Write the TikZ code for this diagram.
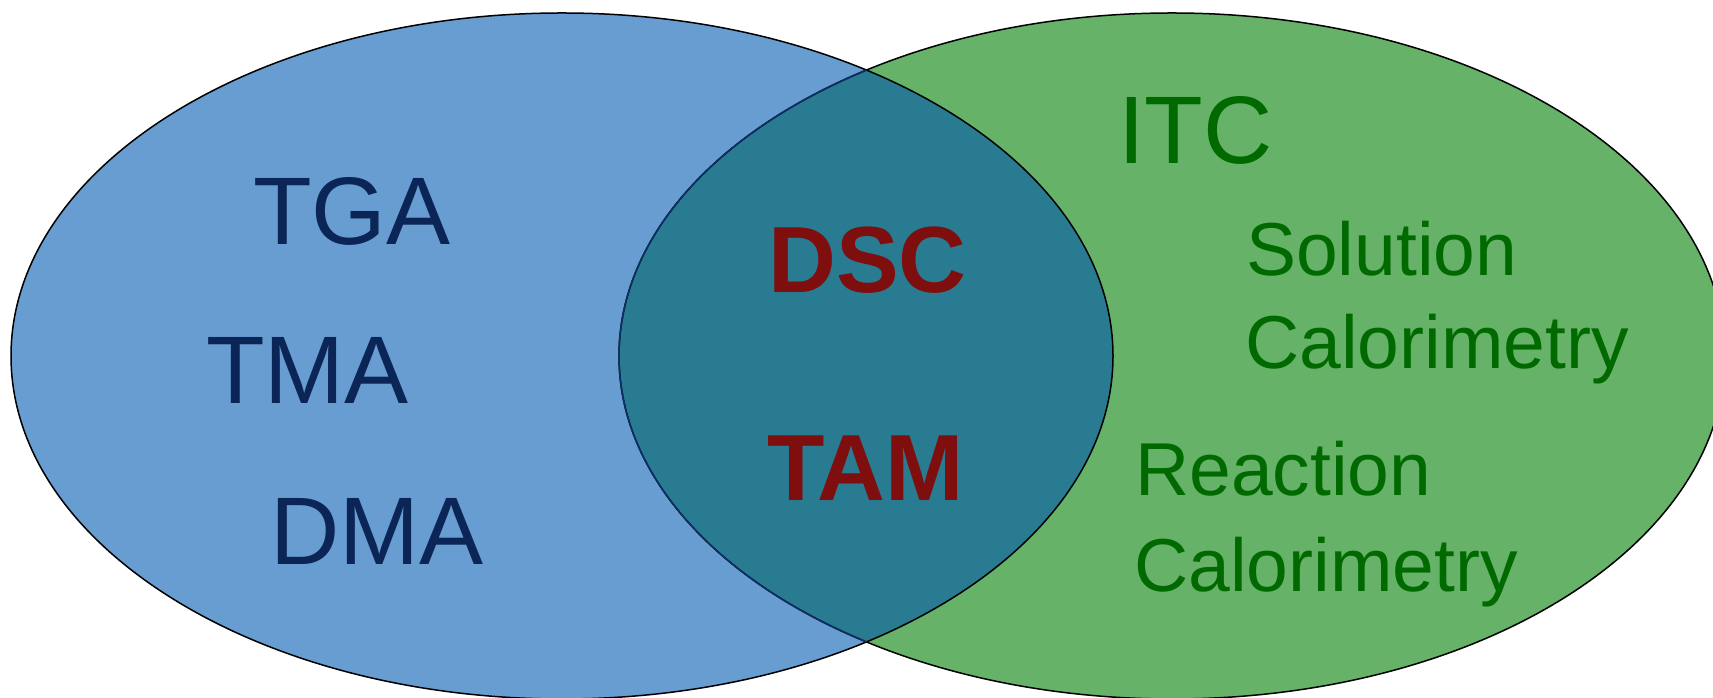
\documentclass[tikz,border=0pt]{standalone}
\usepackage{fontspec}
\setmainfont{Liberation Sans}
\definecolor{setblue}{HTML}{689DD2}
\definecolor{setgreen}{HTML}{66B268}
\definecolor{setboth}{HTML}{287B91}
\definecolor{navytext}{HTML}{0B2556}
\definecolor{redtext}{HTML}{7F0E0E}
\definecolor{greentext}{HTML}{006A00}
\definecolor{edgenavy}{HTML}{0D2F66}
\tikzset{
  outline/.style={line width=1.5pt},
  lefttxt/.style={anchor=base west, inner sep=0pt, text=navytext, font=\fontsize{96}{100}\selectfont},
  midtxt/.style={anchor=base west, inner sep=0pt, text=redtext, font=\fontsize{94}{100}\selectfont\bfseries},
  righttxt/.style={anchor=base west, inner sep=0pt, text=greentext, font=\fontsize{75}{80}\selectfont},
}
\begin{document}
\begin{tikzpicture}[x=1pt,y=1pt]
\useasboundingbox (0,0) rectangle (1713,698);
\def\leftset{(562,342) ellipse [x radius=551, y radius=343]}
\def\rightset{(1172,342) ellipse [x radius=553, y radius=343]}
% fills
\fill[setblue] \leftset;
\fill[setgreen] \rightset;
\begin{scope}
  \clip \leftset;
  \fill[setboth] \rightset;
\end{scope}
% outlines
\draw[outline] \leftset;
\draw[outline] \rightset;
\begin{scope}
  \clip \leftset;
  \draw[outline, edgenavy] \rightset;
\end{scope}
% labels
\node[lefttxt] (tga) at (253,453) {TGA};
\node[lefttxt] (tma) at (206,294) {TMA};
\node[lefttxt] (dma) at (270,133) {DMA};
\node[midtxt] (dsc) at (768,405) {DSC};
\node[midtxt] (tam) at (767,197) {TAM};
\node[righttxt, font=\fontsize{96}{100}\selectfont] (itc) at (1118,534) {ITC};
\node[righttxt] (sol) at (1246,422) {Solution};
\node[righttxt] (cal1) at (1245,329) {Calorimetry};
\node[righttxt] (rea) at (1135,202) {Reaction};
\node[righttxt] (cal2) at (1134,106) {Calorimetry};
\end{tikzpicture}
\end{document}
